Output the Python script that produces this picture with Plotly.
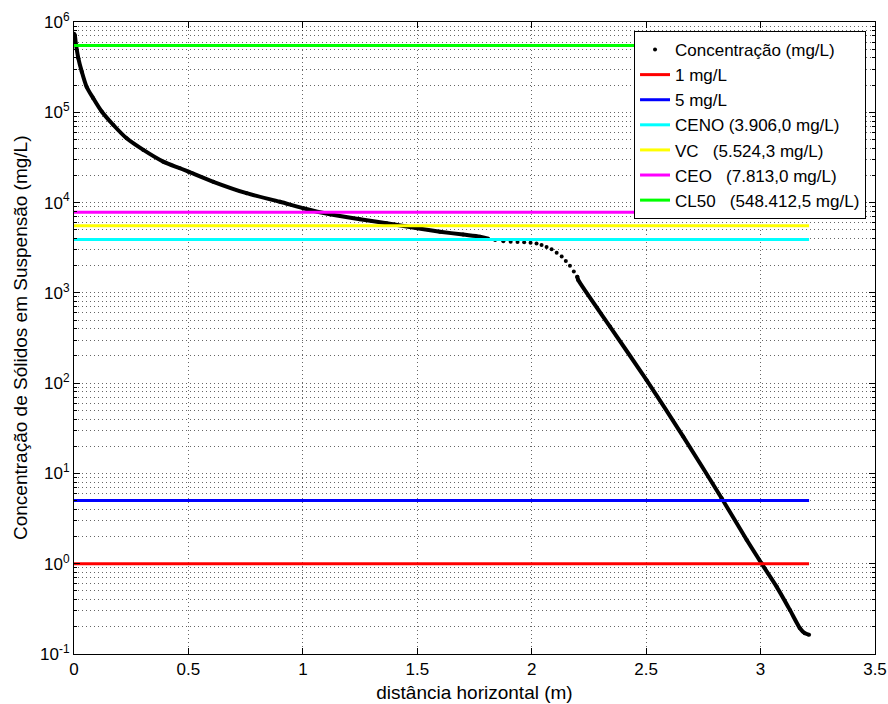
import plotly.graph_objects as go

# ---- data ----
# dense first part of the concentration curve
dist_head = [0.000, 0.003, 0.009, 0.019, 0.034, 0.055, 0.084, 0.121, 0.172, 0.230,
             0.303, 0.390, 0.463, 0.500, 0.609, 0.754, 0.900, 1.002, 1.118, 1.249,
             1.366, 1.400, 1.500, 1.599, 1.700, 1.774, 1.810]
conc_head = [741000, 718000, 556000, 396000, 282000, 192000, 143000, 102000, 72300, 51500,
             38300, 28400, 24000, 22000, 17000, 12700, 10200, 8650, 7410, 6530,
             5900, 5710, 5190, 4760, 4420, 4190, 3980]
# sparse dots around the bend
dist_mid = [1.840, 1.876, 1.908, 1.938, 1.967, 1.995, 2.021, 2.043, 2.065, 2.087,
            2.109, 2.131, 2.149, 2.167, 2.184, 2.199]
conc_mid = [3850, 3720, 3690, 3660, 3630, 3600, 3510, 3390, 3220, 3040,
            2790, 2520, 2250, 1990, 1720, 1510]
# dense steep tail
dist_tail = [2.199, 2.203, 2.342, 2.502, 2.662, 2.830, 2.939, 3.004, 3.070,
             3.128, 3.172, 3.193, 3.212]
conc_tail = [1510, 1390, 423, 108, 25.6, 5.31, 1.84, 1.01, 0.558,
             0.308, 0.193, 0.170, 0.163]

curve_name = "Concentração (mg/L)"
ref_labels = ["1 mg/L", "5 mg/L", "CENO (3.906,0 mg/L)",
              "VC\u00a0\u00a0\u00a0(5.524,3 mg/L)",
              "CEO\u00a0\u00a0\u00a0(7.813,0 mg/L)",
              "CL50\u00a0\u00a0\u00a0(548.412,5 mg/L)"]
ref_values = [1.0, 5.0, 3906.0, 5524.3, 7813.0, 548412.5]
ref_colors = ["#ff0000", "#0000ff", "#00ffff", "#ffff00", "#ff00ff", "#00ff00"]

x_ticks = [0, 0.5, 1, 1.5, 2, 2.5, 3, 3.5]
y_decades = [-1, 0, 1, 2, 3, 4, 5, 6]

x_title = "distância horizontal (m)"
y_title = "Concentração de Sólidos em Suspensão (mg/L)"

# ---- figure ----
FONT = "Liberation Sans, Arial, sans-serif"
fig = go.Figure()

all_x = dist_head + dist_mid + dist_tail
all_y = conc_head + conc_mid + conc_tail

# legend entry / dots
fig.add_trace(go.Scatter(x=all_x, y=all_y, mode="markers", name=curve_name,
                         marker=dict(color="black", size=4, symbol="circle")))
# dense parts drawn as thick line
fig.add_trace(go.Scatter(x=dist_head, y=conc_head, mode="lines", showlegend=False,
                         line=dict(color="black", width=4, shape="spline", smoothing=0.8),
                         hoverinfo="skip"))
fig.add_trace(go.Scatter(x=dist_tail, y=conc_tail, mode="lines", showlegend=False,
                         line=dict(color="black", width=4, shape="spline", smoothing=0.6),
                         hoverinfo="skip"))

x_start = min(all_x)
x_end = max(all_x)
for lab, val, col in zip(ref_labels, ref_values, ref_colors):
    fig.add_trace(go.Scatter(x=[x_start, x_end], y=[val, val], mode="lines", name=lab,
                             line=dict(color=col, width=3)))

grid_col = "rgba(0,0,0,0.6)"
minor_vals = [m * 10 ** k for k in y_decades[:-1] for m in range(2, 10)]

fig.update_layout(
    width=888, height=704,
    margin=dict(l=74, r=13, t=22, b=50),
    paper_bgcolor="white", plot_bgcolor="white",
    font=dict(family=FONT, size=17, color="black"),
    showlegend=True,
    legend=dict(x=0.9888, y=0.9858, xanchor="right", yanchor="top",
                bgcolor="white", bordercolor="black", borderwidth=1,
                font=dict(family=FONT, size=17, color="black"),
                itemwidth=30, tracegroupgap=0),
    xaxis=dict(
        range=[0, 3.5], tickmode="array", tickvals=x_ticks,
        ticktext=[f"{v:g}" for v in x_ticks],
        ticks="inside", ticklen=6, tickcolor="black",
        showline=True, linecolor="black", linewidth=1, mirror="ticks",
        showgrid=True, gridcolor=grid_col, gridwidth=1, griddash="1px,3px",
        zeroline=False, automargin=False,
        title=dict(text=x_title, font=dict(family=FONT, size=19), standoff=7),
        tickfont=dict(family=FONT, size=17),
    ),
    yaxis=dict(
        type="log", range=[-1, 6], tickmode="array",
        tickvals=[10 ** d for d in y_decades],
        ticktext=[f"10<sup>{d}</sup>" for d in y_decades],
        ticks="inside", ticklen=6, tickcolor="black",
        showline=True, linecolor="black", linewidth=1, mirror="ticks",
        showgrid=True, gridcolor=grid_col, gridwidth=1, griddash="1px,3px",
        zeroline=False, automargin=False,
        minor=dict(tickmode="array", tickvals=minor_vals, ticks="inside", ticklen=3,
                   tickcolor="black", showgrid=True, gridcolor=grid_col,
                   gridwidth=1, griddash="1px,3px"),
        tickfont=dict(family=FONT, size=17),
    ),
    annotations=[dict(text=y_title, xref="paper", yref="paper",
                      x=-54 / 801, y=0.5, xanchor="center", yanchor="middle",
                      textangle=-90, showarrow=False,
                      font=dict(family=FONT, size=19, color="black"))],
)

# remove the default 8px page margin so the figure fills the window exactly
fig.write_html("out.html",
               config={"displayModeBar": False},
               post_script="document.body.style.margin='0px';"
                           "document.body.style.overflow='hidden';")
